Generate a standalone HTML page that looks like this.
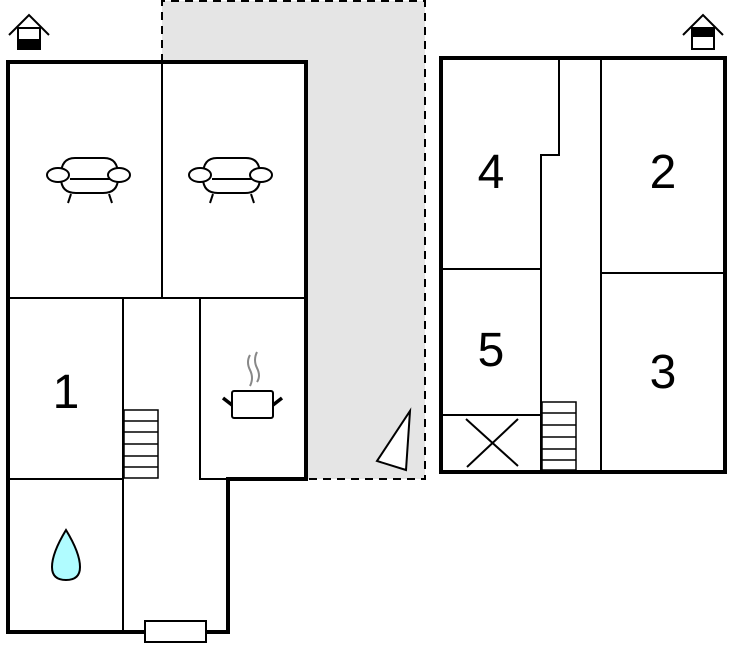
<!DOCTYPE html>
<html><head><meta charset="utf-8"><style>
html,body{margin:0;padding:0;background:#fff;}
svg{display:block;}
text{font-family:"Liberation Sans",sans-serif;font-size:48px;fill:#000;text-anchor:middle;}
</style></head><body>
<svg width="732" height="652" viewBox="0 0 732 652" xmlns="http://www.w3.org/2000/svg">
<!-- gray terrace -->
<rect x="162" y="1" width="263" height="478" fill="#e5e5e5"/>
<path d="M162 62 V1 H425 V479 H306" fill="none" stroke="#000" stroke-width="2" stroke-dasharray="8,6"/>
<polygon points="410,411 406,470 377,461" fill="#fff" stroke="#000" stroke-width="2"/>
<!-- left building -->
<rect x="10" y="64" width="296" height="414" fill="#fff"/>
<rect x="10" y="478" width="218" height="154" fill="#fff"/>
<g stroke="#000" stroke-width="2" fill="none">
<line x1="162" y1="62" x2="162" y2="298"/>
<line x1="8" y1="298" x2="306" y2="298"/>
<line x1="123" y1="298" x2="123" y2="632"/>
<line x1="200" y1="298" x2="200" y2="480"/>
<line x1="8" y1="479" x2="123" y2="479"/>
<line x1="200" y1="479" x2="228" y2="479"/>
</g>
<path d="M8 62 H306 V479 H228 V632 H8 Z" fill="none" stroke="#000" stroke-width="4"/>
<rect x="145" y="621" width="61" height="21" fill="#fff" stroke="#000" stroke-width="2"/>
<!-- stairs left -->
<g stroke="#000" stroke-width="1.5" fill="#fff">
<rect x="124" y="410" width="34" height="68"/>
<line x1="124" y1="421" x2="158" y2="421"/><line x1="124" y1="432" x2="158" y2="432"/>
<line x1="124" y1="444" x2="158" y2="444"/><line x1="124" y1="456" x2="158" y2="456"/>
<line x1="124" y1="467" x2="158" y2="467"/>
</g>
<!-- sofas -->
<g id="sofa" stroke="#000" stroke-width="2" fill="#fff">
<path d="M61 175 Q61 158 75 158 H104 Q118 158 118 175"/>
<path d="M61 178 Q61 193 76 193 H103 Q118 193 118 178"/>
<line x1="70" y1="179" x2="110" y2="179"/>
<ellipse cx="58" cy="175" rx="11" ry="7"/>
<ellipse cx="119" cy="175" rx="11" ry="7"/>
<line x1="71" y1="194" x2="68" y2="203"/>
<line x1="109" y1="194" x2="112" y2="203"/>
</g>
<use href="#sofa" x="142"/>
<text x="66" y="408">1</text>
<!-- pot -->
<g stroke="#000" fill="#fff">
<rect x="232" y="391" width="41" height="27" rx="2" stroke-width="2"/>
<line x1="223" y1="398" x2="232" y2="405" stroke-width="3.5"/>
<line x1="273" y1="405" x2="282" y2="398" stroke-width="3.5"/>
</g>
<g stroke="#888" stroke-width="2" fill="none">
<path d="M250 355 Q246 362 250 370 Q254 378 250 386"/>
<path d="M257 352 Q253 360 257 368 Q261 376 257 382"/>
</g>
<!-- drop -->
<path d="M66 530 Q52 553 52 567 Q52 580 66 580 Q80 580 80 567 Q80 553 66 530 Z" fill="#b0fcff" stroke="#000" stroke-width="2"/>
<!-- right building -->
<rect x="441" y="58" width="284" height="414" fill="#fff"/>
<g stroke="#000" stroke-width="2" fill="none">
<line x1="601" y1="58" x2="601" y2="472"/>
<line x1="601" y1="273" x2="725" y2="273"/>
<path d="M559 58 V155 H541 V472"/>
<line x1="441" y1="269" x2="541" y2="269"/>
<line x1="441" y1="415" x2="541" y2="415"/>
<line x1="466" y1="419" x2="518" y2="466"/>
<line x1="518" y1="419" x2="467" y2="467"/>
</g>
<g stroke="#000" stroke-width="1.5" fill="#fff">
<rect x="542" y="402" width="34" height="68"/>
<line x1="542" y1="413" x2="576" y2="413"/><line x1="542" y1="425" x2="576" y2="425"/>
<line x1="542" y1="437" x2="576" y2="437"/><line x1="542" y1="449" x2="576" y2="449"/>
<line x1="542" y1="460" x2="576" y2="460"/>
</g>
<rect x="441" y="58" width="284" height="414" fill="none" stroke="#000" stroke-width="4"/>
<text x="491" y="188">4</text>
<text x="663" y="188">2</text>
<text x="491" y="366">5</text>
<text x="663" y="388">3</text>
<!-- house icons -->
<g stroke="#000" stroke-width="2" fill="none">
<polyline points="9,35 29,15 49,35"/>
<rect x="18" y="28" width="22" height="21" fill="#fff"/>
<polyline points="683,35 703,15 723,35"/>
<rect x="692" y="28" width="22" height="21" fill="#fff"/>
</g>
<rect x="18" y="39" width="22" height="11" fill="#000"/>
<rect x="692" y="28" width="22" height="9" fill="#000"/>
</svg>
</body></html>
